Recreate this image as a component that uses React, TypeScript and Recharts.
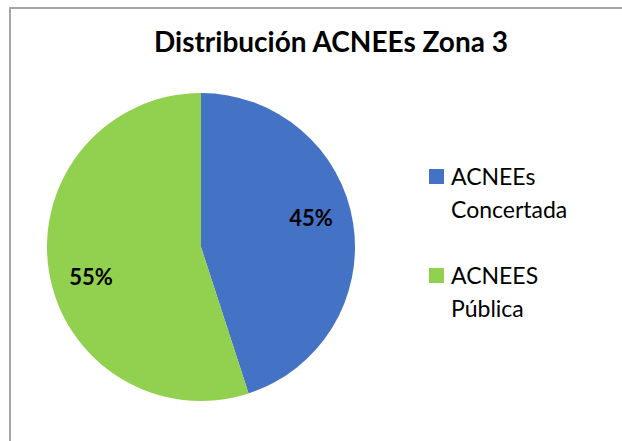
import { Cell, Legend, Pie, PieChart } from "recharts"

const categories = ["ACNEEs Concertada", "ACNEES Pública"]
const shares = [45, 55]
const colors = ["#4472C4", "#92D050"]

const chartData = categories.map((name, i) => ({ name, value: shares[i] }))

const FONT = "Lato, 'Open Sans', sans-serif"
const RAD = Math.PI / 180

function renderLabel(props: any) {
  const { cx, cy, midAngle, outerRadius, percent } = props
  // Excel "best fit" sits a bit off the slice middle
  const a = (midAngle + 6) * RAD
  const r = outerRadius * 0.74
  const x = cx + r * Math.cos(a)
  const y = cy - r * Math.sin(a)
  return (
    <text
      x={x}
      y={y}
      textAnchor="middle"
      dominantBaseline="central"
      fontFamily={FONT}
      fontWeight={700}
      fontSize={22}
      fill="#000"
    >
      {`${Math.round(percent * 100)}%`}
    </text>
  )
}

function LegendBox({ payload }: any) {
  const items = [...(payload || [])].sort(
    (a: any, b: any) => categories.indexOf(a.value) - categories.indexOf(b.value)
  )
  return (
    <div style={{ fontFamily: FONT }}>
      {items.map((p: any, i: number) => (
        <div
          key={p.value}
          style={{ display: "flex", alignItems: "flex-start", marginBottom: i === 0 ? 33 : 0 }}
        >
          <div
            style={{
              width: 15,
              height: 15,
              background: p.color,
              marginTop: 9,
              marginRight: 7,
              flex: "none",
            }}
          />
          <div style={{ width: 140, fontSize: 23, lineHeight: "33px", color: "#000" }}>
            {p.value}
          </div>
        </div>
      ))}
    </div>
  )
}

export default function App() {
  return (
    <div
      style={{
        position: "absolute",
        left: 0,
        top: 0,
        width: 622,
        height: 441,
        background: "#fff",
        overflow: "hidden",
      }}
    >
      <div
        style={{
          position: "absolute",
          left: 9,
          top: 7,
          width: 640,
          height: 460,
          borderTop: "2px solid #a6a6a6",
          borderLeft: "2px solid #a6a6a6",
        }}
      />
      <div
        style={{
          position: "absolute",
          left: 131,
          top: 24,
          width: 400,
          textAlign: "center",
          fontFamily: FONT,
          fontWeight: 700,
          fontSize: 28,
          color: "#000",
        }}
      >
        Distribución ACNEEs Zona 3
      </div>
      <PieChart
        width={622}
        height={441}
        margin={{ top: 0, right: 0, bottom: 0, left: 0 }}
        style={{ position: "absolute", left: 0, top: 0 }}
      >
        <Pie
          data={chartData}
          dataKey="value"
          nameKey="name"
          cx={201}
          cy={247}
          outerRadius={154}
          startAngle={90}
          endAngle={-270}
          stroke="none"
          label={renderLabel}
          labelLine={false}
          isAnimationActive={false}
        >
          {chartData.map((d, i) => (
            <Cell key={d.name} fill={colors[i]} />
          ))}
        </Pie>
        <Legend
          content={<LegendBox />}
          wrapperStyle={{ position: "absolute", left: 429, top: 160, width: 180 }}
        />
      </PieChart>
    </div>
  )
}
